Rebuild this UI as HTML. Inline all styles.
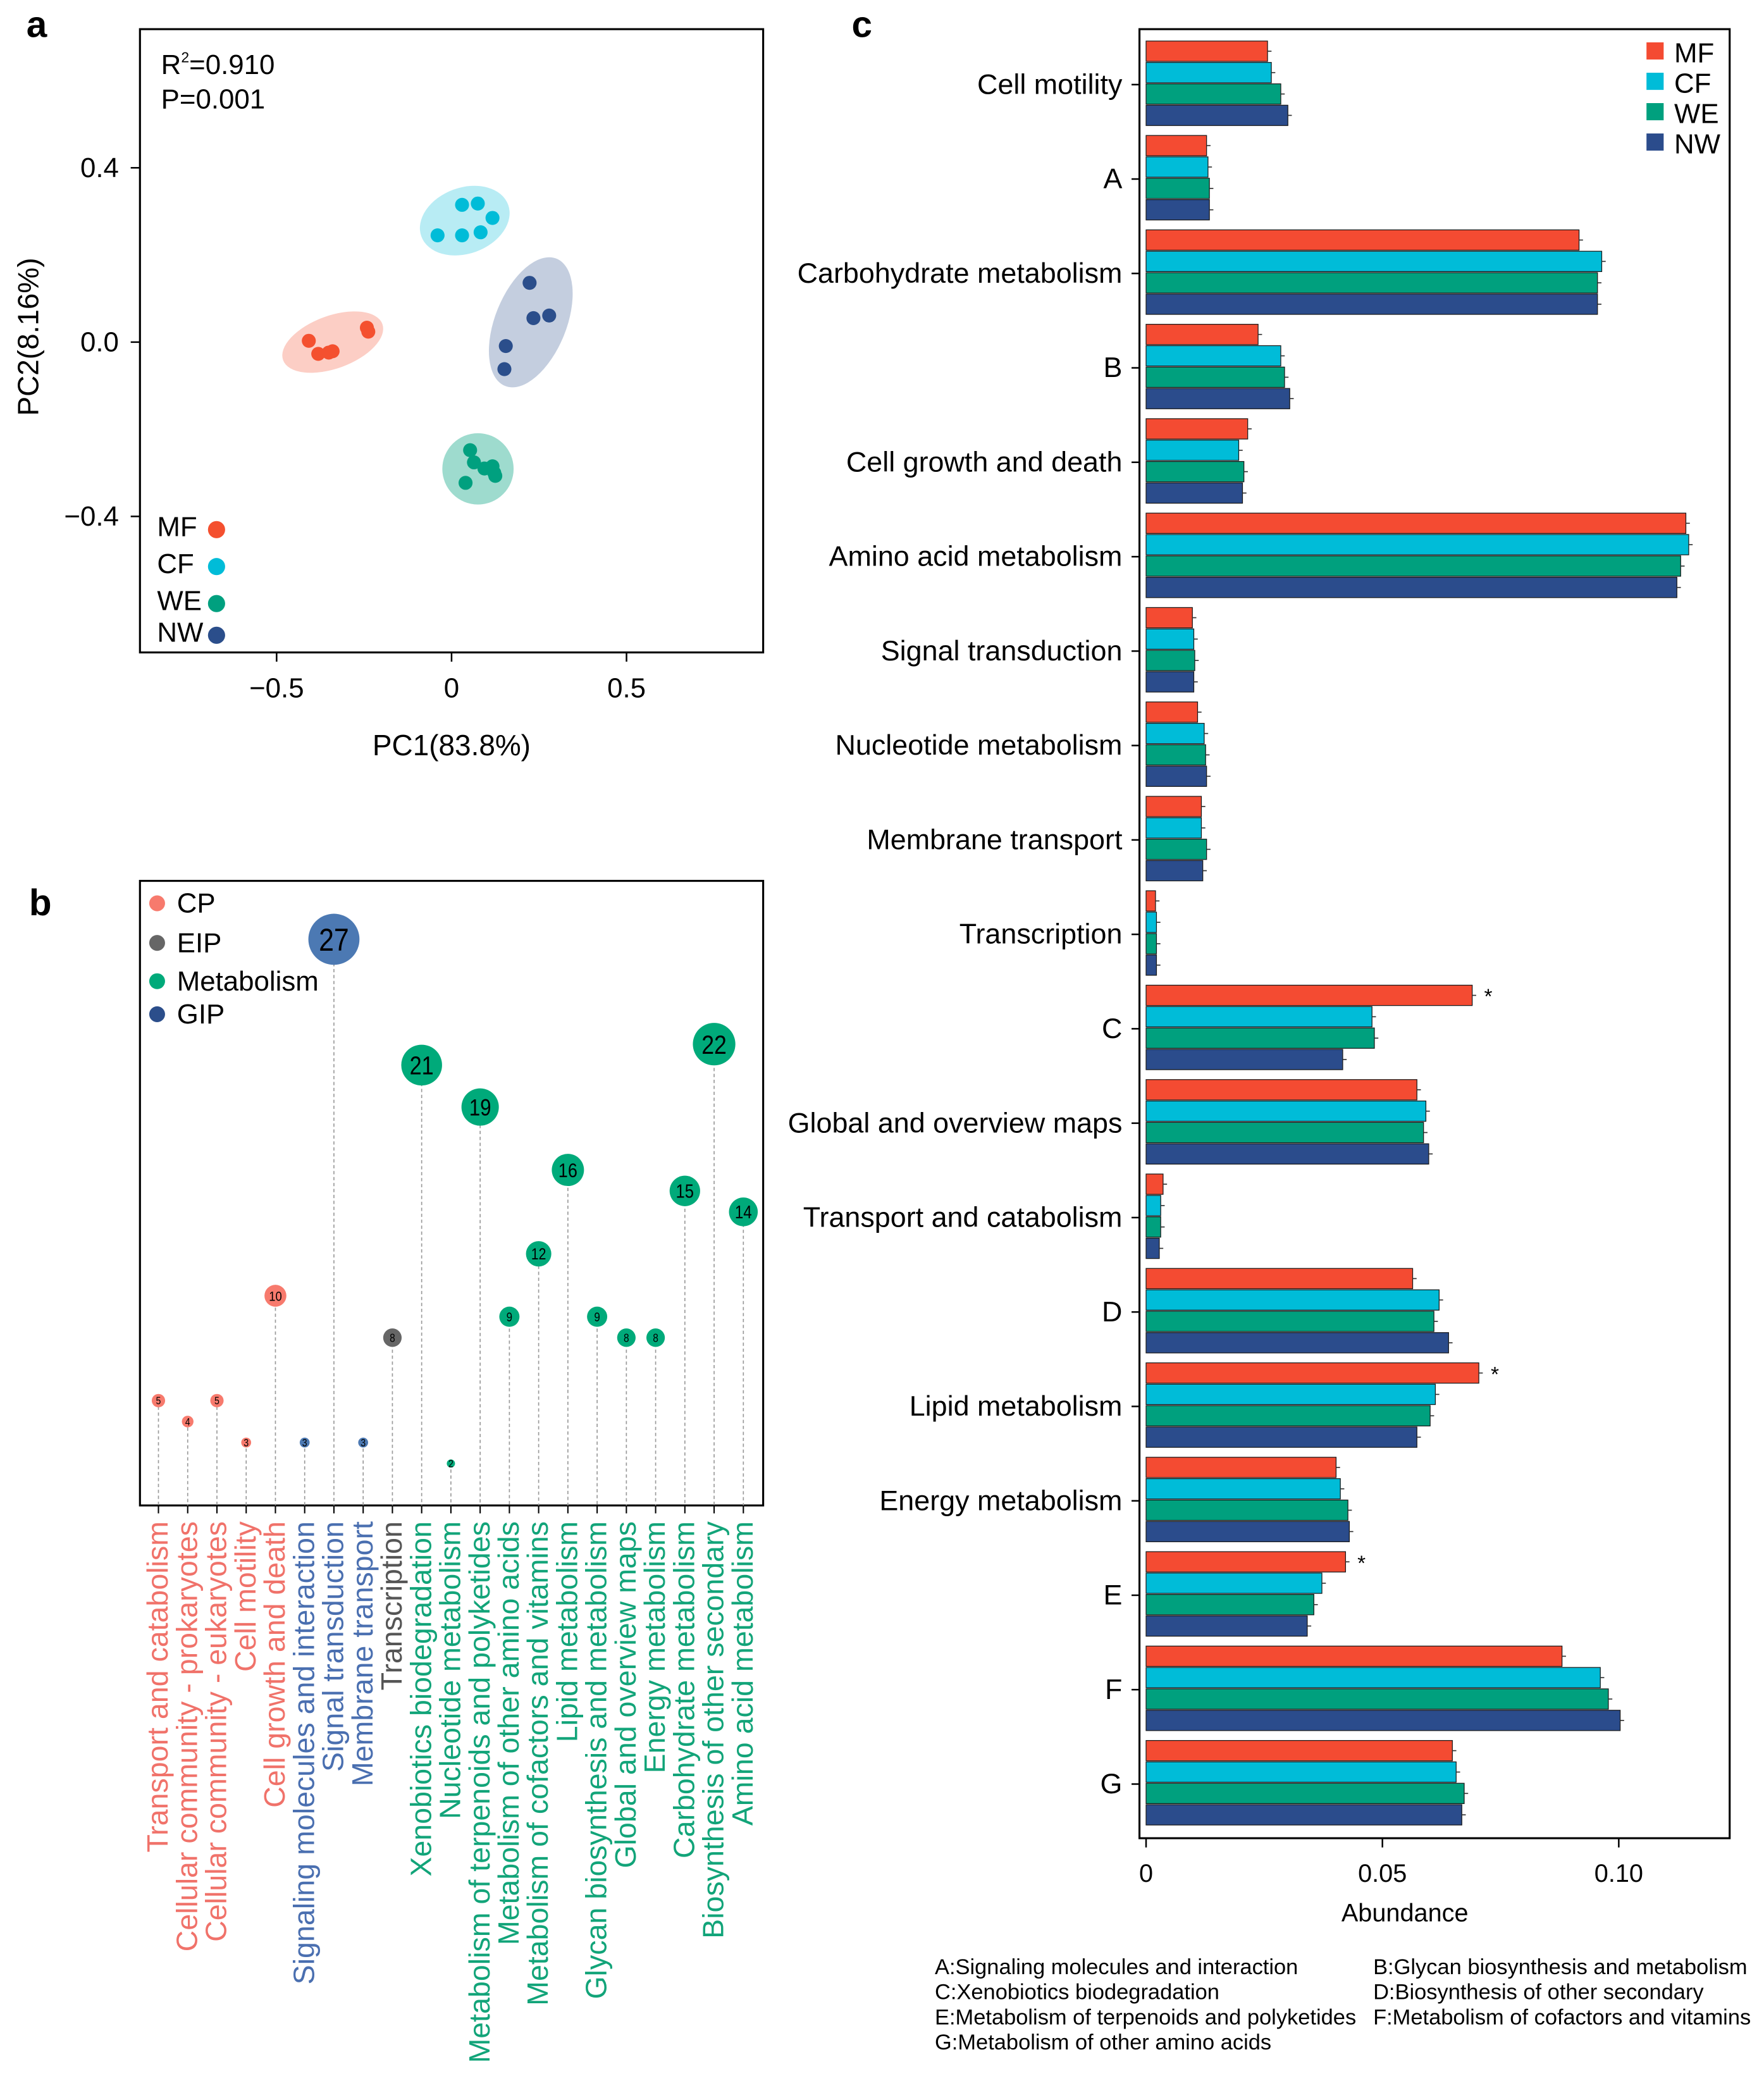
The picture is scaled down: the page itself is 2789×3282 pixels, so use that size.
<!DOCTYPE html>
<html><head><meta charset="utf-8"><style>
html,body{margin:0;padding:0;background:#fff}
svg{display:block;font-family:"Liberation Sans",Arial,sans-serif}
</style></head><body>
<svg id="fig" width="2789" height="3282" viewBox="0 0 1336 1572" xmlns="http://www.w3.org/2000/svg">
<rect width="1336" height="1572" fill="#fff"/>
<text x="20" y="28" font-size="28" font-weight="bold">a</text>
<text x="22" y="693" font-size="28" font-weight="bold">b</text>
<text x="645" y="28" font-size="28" font-weight="bold">c</text>
<g id="pa"></g>
<g id="pb"></g>
<g id="pc"></g>
</svg>
<script>
// ---- Panel a data ----
const groupsA = ["MF","CF","WE","NW"];
const colorsA = ["#f4502f","#00bcd8","#00a07f","#2b4e8b"];
const ptsMF = [[-0.408,0.003],[-0.381,-0.027],[-0.351,-0.024],[-0.34,-0.021],[-0.242,0.033],[-0.238,0.024]];
const ptsCF = [[-0.04,0.245],[0.03,0.315],[0.075,0.318],[0.117,0.285],[0.03,0.245],[0.083,0.252]];
const ptsWE = [[0.053,-0.248],[0.064,-0.276],[0.094,-0.29],[0.117,-0.285],[0.122,-0.3],[0.125,-0.307],[0.04,-0.323]];
const ptsNW = [[0.223,0.136],[0.234,0.055],[0.279,0.061],[0.155,-0.009],[0.151,-0.062]];
const xTicksA = [-0.5,0,0.5];
const xTickLabelsA = ["\u22120.5","0","0.5"];
const yTicksA = [0.4,0,-0.4];
const yTickLabelsA = ["0.4","0.0","\u22120.4"];

// ---- Panel b data ----
const catsB = ["Transport and catabolism","Cellular community - prokaryotes","Cellular community - eukaryotes","Cell motility","Cell growth and death","Signaling molecules and interaction","Signal transduction","Membrane transport","Transcription","Xenobiotics biodegradation","Nucleotide metabolism","Metabolism of terpenoids and polyketides","Metabolism of other amino acids","Metabolism of cofactors and vitamins","Lipid metabolism","Glycan biosynthesis and metabolism","Global and overview maps","Energy metabolism","Carbohydrate metabolism","Biosynthesis of other secondary","Amino acid metabolism"];
const countsB = [5,4,5,3,10,3,27,3,8,21,2,19,9,12,16,9,8,8,15,22,14];
const classB = ["CP","CP","CP","CP","CP","GIP","GIP","GIP","EIP","M","M","M","M","M","M","M","M","M","M","M","M"];

// ---- Panel c data ----
const catsC = ["Cell motility","A","Carbohydrate metabolism","B","Cell growth and death","Amino acid metabolism","Signal transduction","Nucleotide metabolism","Membrane transport","Transcription","C","Global and overview maps","Transport and catabolism","D","Lipid metabolism","Energy metabolism","E","F","G"];
const valMF = [0.0257,0.0128,0.0916,0.0237,0.0215,0.1142,0.0098,0.0109,0.0117,0.0020,0.0690,0.0573,0.0036,0.0564,0.0704,0.0402,0.0422,0.0880,0.0648];
const valCF = [0.0265,0.0131,0.0964,0.0285,0.0196,0.1148,0.0101,0.0123,0.0117,0.0022,0.0478,0.0592,0.0031,0.0620,0.0612,0.0411,0.0372,0.0961,0.0656];
const valWE = [0.0285,0.0134,0.0955,0.0293,0.0207,0.1131,0.0103,0.0126,0.0128,0.0022,0.0483,0.0587,0.0031,0.0609,0.0601,0.0427,0.0355,0.0978,0.0673];
const valNW = [0.0300,0.0134,0.0955,0.0304,0.0204,0.1123,0.0101,0.0128,0.0120,0.0022,0.0416,0.0598,0.0028,0.0640,0.0573,0.0430,0.0341,0.1003,0.0668];
const starsC = ["","","","","","","","","","","*","","","","*","","*","",""];
const xTicksC = [0,0.05,0.10];
const xTickLabelsC = ["0","0.05","0.10"];

const NS="http://www.w3.org/2000/svg";
function mk(parent,tag,attrs,txt){const e=document.createElementNS(NS,tag);for(const k in attrs)e.setAttribute(k,attrs[k]);if(txt!==undefined)e.textContent=txt;parent.appendChild(e);return e;}

// ===== Panel A =====
(function(){
const g=document.getElementById('pa');
const X=v=>342+v*265, Y=v=>259-v*330;
const box=mk(g,'rect',{x:106,y:22,width:472,height:472,fill:'none',stroke:'#000','stroke-width':1.5});


const ell=[[252,259,40,20,-20,'#f4502f',0.28],[352,167,35,25,-20,'#00bcd8',0.28],[402,244,27,52,22,'#2b4e8b',0.28],[362,355,27,27,0,'#00a07f',0.38]];
const enames=['mf-ellipse','cf-ellipse','nw-ellipse','we-ellipse'];
ell.forEach((e,i)=>{const el=mk(g,'ellipse',{cx:e[0],cy:e[1],rx:e[2],ry:e[3],transform:`rotate(${e[4]} ${e[0]} ${e[1]})`,fill:e[5],'fill-opacity':e[6]});

});
[ptsMF,ptsCF,ptsWE,ptsNW].forEach((pts,gi)=>{pts.forEach(p=>{const c=mk(g,'circle',{cx:X(p[0]),cy:Y(p[1]),r:5.3,fill:colorsA[gi]});

});});
xTicksA.forEach((t,i)=>{mk(g,'line',{x1:X(t),x2:X(t),y1:494,y2:501,stroke:'#000','stroke-width':1.2});
const tx=mk(g,'text',{x:X(t),y:528,'font-size':21,'text-anchor':'middle'},xTickLabelsA[i]);

});
yTicksA.forEach((t,i)=>{mk(g,'line',{x1:99,x2:106,y1:Y(t),y2:Y(t),stroke:'#000','stroke-width':1.2});
const tx=mk(g,'text',{x:90,y:Y(t)+7,'font-size':21,'text-anchor':'end'},yTickLabelsA[i]);

});
const xt=mk(g,'text',{x:342,y:572,'font-size':22,'text-anchor':'middle'},'PC1(83.8%)');


const yt=mk(g,'text',{x:0,y:0,'font-size':22,'text-anchor':'middle',transform:'translate(29,255) rotate(-90)'},'PC2(8.16%)');


const r2=mk(g,'text',{x:122,y:56,'font-size':21});
r2.innerHTML='R<tspan dy="-9" font-size="11">2</tspan><tspan dy="9">=0.910</tspan>';


const pv=mk(g,'text',{x:122,y:82,'font-size':21},'P=0.001');


const ly=[401,429,457,481];
groupsA.forEach((n,i)=>{const t=mk(g,'text',{x:119,y:ly[i]+5,'font-size':21},n);


const c=mk(g,'circle',{cx:164,cy:ly[i],r:6.5,fill:colorsA[i]});

});
})();

// ===== Panel B =====
(function(){
const g=document.getElementById('pb');
const dotCol={CP:'#f77a6d',EIP:'#666666',M:'#00aa7a',GIP:'#4c79b3'};
const txtCol={CP:'#f0726a',EIP:'#555555',M:'#12a479',GIP:'#4a6fb0'};
const X=i=>120+i*22.15, Y=v=>1140-v*15.88;
const box=mk(g,'rect',{x:106,y:667,width:472,height:473,fill:'none',stroke:'#000','stroke-width':1.5});


countsB.forEach((v,i)=>{
 const x=X(i),y=Y(v),r=0.65*v+1.8;
 const ln=mk(g,'line',{x1:x,x2:x,y1:y,y2:1140,stroke:'#999','stroke-width':0.8,'stroke-dasharray':'2.5,2'});
 
 
 mk(g,'line',{x1:x,x2:x,y1:1140,y2:1146,stroke:'#000','stroke-width':1});
 const c=mk(g,'circle',{cx:x,cy:y,r:r,fill:dotCol[classB[i]]});
 
 
 const fs=Math.max(8,r*1.25);
 const t=mk(g,'text',{x:x,y:y+fs*0.36,'font-size':fs,'text-anchor':'middle',fill:'#000',transform:`translate(${x} ${y}) scale(0.85 1) translate(${-x} ${-y})`},String(v));
 
 
 const lb=mk(g,'text',{x:0,y:0,'font-size':22.3,'text-anchor':'end',fill:txtCol[classB[i]],transform:`translate(${x+7},1152) rotate(-90)`},catsB[i]);
 
 
});
const leg=[['CP','CP',683],['EIP','EIP',713],['Metabolism','M',742],['GIP','GIP',767]];
const legc={CP:'#f77a6d',EIP:'#666666',M:'#00aa7a',GIP:'#2b4e8b'};
leg.forEach(l=>{const c=mk(g,'circle',{cx:119,cy:l[2]+1,r:6,fill:legc[l[1]]});


const t=mk(g,'text',{x:134,y:l[2]+8,'font-size':21},l[0]);

});
})();

// ===== Panel C =====
(function(){
const g=document.getElementById('pc');
const X=v=>868+v*3580;
const gc=i=>64+i*71.5;
const cols=['#f44b32','#00bcd8','#00a07e','#2b4c8c'];
const names=['MF','CF','WE','NW'];
const box=mk(g,'rect',{x:863,y:22,width:447,height:1370,fill:'none',stroke:'#000','stroke-width':1.5});


const series=[valMF,valCF,valWE,valNW];
catsC.forEach((c,i)=>{
 const top=gc(i)-33;
 series.forEach((vals,s)=>{
  const y=top+s*16.2, w=X(vals[i])-868;
  const r=mk(g,'rect',{x:868,y:y,width:w,height:15.4,fill:cols[s],stroke:'#1a1a1a','stroke-width':0.6});
  
  
  mk(g,'line',{x1:X(vals[i]),x2:X(vals[i])+3,y1:y+7.7,y2:y+7.7,stroke:'#333','stroke-width':0.8});
 });
 if(starsC[i]){const st=mk(g,'text',{x:X(valMF[i])+9,y:top+14,'font-size':16},starsC[i]);
 
 }
 mk(g,'line',{x1:857,x2:863,y1:gc(i),y2:gc(i),stroke:'#000','stroke-width':1.2});
 const t=mk(g,'text',{x:850,y:gc(i)+7,'font-size':21.5,'text-anchor':'end'},c);
 
 
});
xTicksC.forEach((t,i)=>{mk(g,'line',{x1:X(t),x2:X(t),y1:1392,y2:1399,stroke:'#000','stroke-width':1.2});
const tx=mk(g,'text',{x:X(t),y:1425,'font-size':19,'text-anchor':'middle'},xTickLabelsC[i]);

});
const xt=mk(g,'text',{x:1064,y:1455,'font-size':19,'text-anchor':'middle'},'Abundance');


const ly=[39,62,85,108];
names.forEach((n,i)=>{const r=mk(g,'rect',{x:1247,y:ly[i]-7,width:13,height:13,fill:cols[i]});


const t=mk(g,'text',{x:1268,y:ly[i]+8,'font-size':21},n);

});
const notes=[[708,1495,'A:Signaling molecules and interaction'],[1040,1495,'B:Glycan biosynthesis and metabolism'],[708,1514,'C:Xenobiotics biodegradation'],[1040,1514,'D:Biosynthesis of other secondary'],[708,1533,'E:Metabolism of terpenoids and polyketides'],[1040,1533,'F:Metabolism of cofactors and vitamins'],[708,1552,'G:Metabolism of other amino acids']];
notes.forEach(n=>{const t=mk(g,'text',{x:n[0],y:n[1],'font-size':16.5},n[2]);

});
})();
</script>
</body></html>
